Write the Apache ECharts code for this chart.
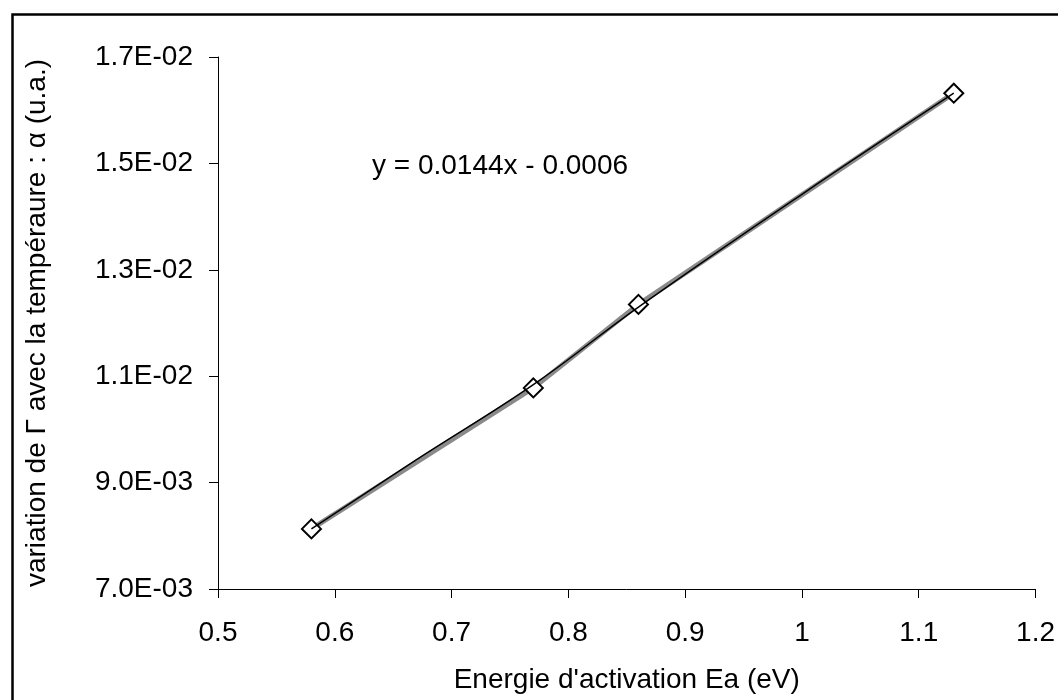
<!DOCTYPE html>
<html>
<head>
<meta charset="utf-8">
<script src="https://cdn.jsdelivr.net/npm/echarts@6/dist/echarts.min.js"></script>
<style>html,body{margin:0;padding:0;background:#fff}#c{width:1058px;height:700px}</style>
</head>
<body>
<div id="c"></div>
<script>
const energies = [0.58, 0.77, 0.86, 1.13];
const alphas = [0.00813, 0.01078, 0.01235, 0.01632];
const curveEnergies = [0.58, 0.67, 0.77, 0.86, 1.0, 1.13];
const curveAlphas = [0.00813, 0.00943, 0.01084, 0.01230, 0.01442, 0.01632];
const yTicks = [0.007, 0.009, 0.011, 0.013, 0.015, 0.017];
const xTicks = [0.5, 0.6, 0.7, 0.8, 0.9, 1, 1.1, 1.2];
const equation = 'y = 0.0144x - 0.0006';
const xTitle = "Energie d'activation Ea (eV)";
const yTitle = 'variation de \u0393 avec la tempéraure : \u03b1 (u.a.)';

const pts = energies.map((e, i) => [e, alphas[i]]);
const curvePts = curveEnergies.map((e, i) => [e, curveAlphas[i]]);
const FONT = 'Liberation Sans, Arial, sans-serif';

function fmtExp(v) {
  const s = v.toExponential(1);
  const [m, e] = s.split('e');
  const n = Math.abs(parseInt(e, 10));
  return m + 'E' + (e[0] === '-' ? '-' : '') + (n < 10 ? '0' + n : '' + n);
}

const chart = echarts.init(document.getElementById('c'), null, {renderer: 'canvas'});
chart.setOption({
  animation: false,
  backgroundColor: '#fff',
  grid: {left: 218, right: 21, top: 57, bottom: 111, containLabel: false},
  xAxis: {
    type: 'value', min: 0.5, max: 1.2,
    axisLine: {show: true, onZero: false, lineStyle: {color: '#000', width: 1}},
    axisTick: {show: true, inside: false, length: 9, lineStyle: {color: '#000'}, customValues: xTicks},
    axisLabel: {show: true, margin: 30, color: '#000', fontSize: 28, fontFamily: FONT, customValues: xTicks,
      formatter: v => String(Math.round(v * 10) / 10)},
    splitLine: {show: false},
    name: xTitle, nameLocation: 'middle', nameGap: 77,
    nameTextStyle: {color: '#000', fontSize: 28, fontFamily: FONT}
  },
  yAxis: {
    type: 'value', min: 0.007, max: 0.017,
    axisLine: {show: true, onZero: false, lineStyle: {color: '#000', width: 1}},
    axisTick: {show: true, inside: false, length: 9, lineStyle: {color: '#000'}, customValues: yTicks},
    axisLabel: {show: true, margin: 25, color: '#000', fontSize: 28, fontFamily: FONT, customValues: yTicks,
      formatter: v => fmtExp(v)},
    splitLine: {show: false},
    name: yTitle, nameLocation: 'middle', nameGap: 167,
    nameTextStyle: {color: '#000', fontSize: 28, fontFamily: FONT}
  },
  series: [
    {
      type: 'line', data: pts, z: 2,
      lineStyle: {color: '#8a8a8a', width: 5},
      symbol: 'diamond', symbolSize: [19, 19], showSymbol: true,
      itemStyle: {color: '#fff', borderColor: '#000', borderWidth: 2}
    },
    {
      type: 'line', data: curvePts, z: 5, smooth: 0.4,
      lineStyle: {color: '#000', width: 1.5},
      showSymbol: false, symbol: 'none'
    }
  ],
  graphic: [
    {type: 'rect', left: 10, top: 12, shape: {width: 1060, height: 700}, style: {fill: 'none', stroke: '#000', lineWidth: 2.5}, silent: true},
    {type: 'text', left: 372, top: 152, style: {text: equation, fill: '#000', fontSize: 28, fontFamily: FONT}}
  ]
});
</script>
</body>
</html>
